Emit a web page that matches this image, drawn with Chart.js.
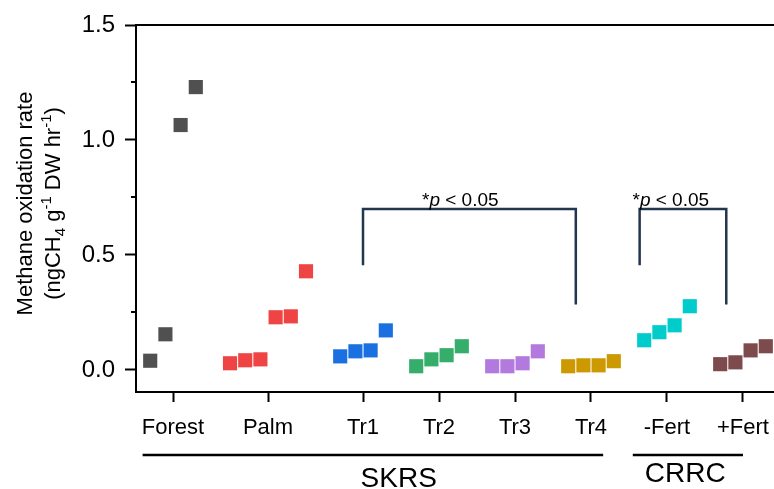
<!DOCTYPE html>
<html>
<head>
<meta charset="utf-8">
<script src="https://cdn.jsdelivr.net/npm/chart.js@4.4.1/dist/chart.umd.min.js"></script>
<style>
  html, body { margin: 0; padding: 0; background: #fff; }
</style>
</head>
<body>
<canvas id="chart" width="774" height="489"></canvas>
<script>
// groups along the x axis and where they sit on the linear x scale
const categories = ['Forest', 'Palm', 'Tr1', 'Tr2', 'Tr3', 'Tr4', '-Fert', '+Fert'];
const catPos = [0, 1.25, 2.5, 3.5, 4.5, 5.5, 6.5, 7.5];

// methane oxidation rate per replicate (ngCH4 g-1 DW hr-1)
const forest = [0.04, 0.155, 1.065, 1.23];
const palm = [0.029, 0.042, 0.046, 0.229, 0.233, 0.429];
const tr1 = [0.059, 0.081, 0.085, 0.172];
const tr2 = [0.016, 0.046, 0.064, 0.103];
const tr3 = [0.016, 0.016, 0.029, 0.081];
const tr4 = [0.016, 0.02, 0.02, 0.038];
const minusFert = [0.129, 0.164, 0.194, 0.277];
const plusFert = [0.025, 0.033, 0.085, 0.103];
const series = [forest, palm, tr1, tr2, tr3, tr4, minusFert, plusFert];

const yTicks = [0, 0.5, 1.0, 1.5];
const yMinor = [0.25, 0.75, 1.25];

const colors = ['#505050', '#ef4444', '#1a70e0', '#35ad6b', '#b279de', '#cc9900', '#00cccc', '#7d4b4b'];
const jitter = 0.2;

// significance brackets (in axis units)
const brackets = [
    { from: 2.5, to: 5.3, top: 0.7, fromEnd: 0.455, toEnd: 0.285, labelAt: 3.78 },
    { from: 6.14, to: 7.28, top: 0.7, fromEnd: 0.455, toEnd: 0.285, labelAt: 6.55 }
];
// site groups under the axis
const sites = [
    { label: 'SKRS', from: -0.4, to: 5.66, center: 2.97, textY: 487 },
    { label: 'CRRC', from: 6.05, to: 7.5, center: 6.74, textY: 482 }
];

const FONT = '"Liberation Sans", Arial, Helvetica, sans-serif';

var datasets = series.map(function (vals, g) {
    return {
        label: categories[g],
        data: vals.map(function (v, i) {
            return { x: catPos[g] + (i - (vals.length - 1) / 2) * jitter, y: v };
        }),
        pointStyle: 'rect',
        pointRadius: 10,
        pointHoverRadius: 10,
        pointBorderWidth: 0,
        backgroundColor: colors[g],
        borderColor: colors[g],
        showLine: false
    };
});

function drawRuns(ctx, runs, cx, by) {
    var total = 0;
    runs.forEach(function (r) { ctx.font = r.font; r.w = ctx.measureText(r.t).width; total += r.w; });
    var px = cx - total / 2;
    ctx.textAlign = 'left';
    ctx.textBaseline = 'alphabetic';
    runs.forEach(function (r) {
        ctx.font = r.font;
        ctx.fillText(r.t, px, by + (r.dy || 0));
        px += r.w;
    });
}

var annotations = {
    id: 'annotations',
    afterDraw: function (chart) {
        var ctx = chart.ctx, x = chart.scales.x, y = chart.scales.y;
        var left = chart.chartArea.left;
        ctx.save();

        // minor ticks on y
        ctx.strokeStyle = '#000';
        ctx.lineWidth = 2;
        yMinor.forEach(function (v) {
            var py = Math.round(y.getPixelForValue(v));
            ctx.beginPath();
            ctx.moveTo(left - 5, py);
            ctx.lineTo(left, py);
            ctx.stroke();
        });

        // brackets
        ctx.strokeStyle = '#22364f';
        ctx.lineWidth = 2.5;
        ctx.fillStyle = '#000';
        brackets.forEach(function (b) {
            var x1 = x.getPixelForValue(b.from), x2 = x.getPixelForValue(b.to);
            var yt = y.getPixelForValue(b.top);
            ctx.beginPath();
            ctx.moveTo(x1, y.getPixelForValue(b.fromEnd));
            ctx.lineTo(x1, yt);
            ctx.lineTo(x2, yt);
            ctx.lineTo(x2, y.getPixelForValue(b.toEnd));
            ctx.stroke();
            drawRuns(ctx, [
                { t: '*', font: '19px ' + FONT },
                { t: 'p', font: 'italic 19px ' + FONT },
                { t: ' < 0.05', font: '19px ' + FONT }
            ], x.getPixelForValue(b.labelAt), yt - 3);
        });

        // site lines and names
        ctx.strokeStyle = '#000';
        ctx.lineWidth = 2.5;
        sites.forEach(function (s) {
            ctx.beginPath();
            ctx.moveTo(x.getPixelForValue(s.from), 455);
            ctx.lineTo(x.getPixelForValue(s.to), 455);
            ctx.stroke();
            ctx.font = '28px ' + FONT;
            ctx.textAlign = 'center';
            ctx.textBaseline = 'alphabetic';
            ctx.fillText(s.label, x.getPixelForValue(s.center), s.textY);
        });

        // y axis title, two lines, rotated
        var cy = (chart.chartArea.top + chart.chartArea.bottom) / 2 - 5;
        ctx.translate(0, cy);
        ctx.rotate(-Math.PI / 2);
        ctx.font = '22px ' + FONT;
        ctx.textAlign = 'center';
        ctx.fillText('Methane oxidation rate', 0, 32);
        drawRuns(ctx, [
            { t: '(ngCH', font: '22px ' + FONT },
            { t: '4', font: '15px ' + FONT, dy: 5 },
            { t: ' g', font: '22px ' + FONT },
            { t: '-1', font: '15px ' + FONT, dy: -9 },
            { t: ' DW hr', font: '22px ' + FONT },
            { t: '-1', font: '15px ' + FONT, dy: -9 },
            { t: ')', font: '22px ' + FONT }
        ], 0, 60);
        ctx.restore();
    }
};

var ctx = document.getElementById('chart').getContext('2d');
var chart = new Chart(ctx, {
    type: 'scatter',
    data: { datasets: datasets },
    options: {
        responsive: false,
        animation: false,
        layout: { autoPadding: false, padding: { top: 25, left: 0, right: 0, bottom: 0 } },
        plugins: { legend: { display: false }, tooltip: { enabled: false } },
        elements: { point: { pointStyle: 'rect' } },
        scales: {
            x: {
                type: 'linear',
                position: 'bottom',
                min: -0.487,
                max: 7.908,
                afterBuildTicks: function (scale) {
                    scale.ticks = catPos.map(function (v) { return { value: v }; });
                },
                afterFit: function (scale) {
                    scale.height = 97;
                    scale.paddingLeft = 0;
                    scale.paddingRight = 0;
                },
                ticks: {
                    autoSkip: false,
                    maxRotation: 0,
                    color: '#000',
                    padding: 13,
                    font: { family: FONT, size: 22 },
                    callback: function (v, i) { return categories[i]; }
                },
                grid: { drawOnChartArea: false, drawTicks: true, tickLength: 10, tickWidth: 2, tickColor: '#000' },
                border: { color: '#000', width: 2 }
            },
            xTop: {
                type: 'linear',
                position: 'top',
                min: -0.487,
                max: 7.908,
                afterFit: function (scale) { scale.height = 0; },
                ticks: { display: false },
                grid: { display: false },
                border: { color: '#000', width: 2 }
            },
            y: {
                type: 'linear',
                min: -0.096,
                max: 1.5,
                afterBuildTicks: function (scale) {
                    scale.ticks = yTicks.map(function (v) { return { value: v }; });
                },
                afterFit: function (scale) {
                    scale.width = 136;
                    scale.paddingTop = 0;
                    scale.paddingBottom = 0;
                },
                ticks: {
                    color: '#000',
                    padding: 10,
                    font: { family: FONT, size: 24 },
                    callback: function (v) { return v.toFixed(1); }
                },
                grid: { drawOnChartArea: false, drawTicks: true, tickLength: 11, tickWidth: 2, tickColor: '#000' },
                border: { color: '#000', width: 2 }
            }
        }
    },
    plugins: [annotations]
});
</script>
</body>
</html>
